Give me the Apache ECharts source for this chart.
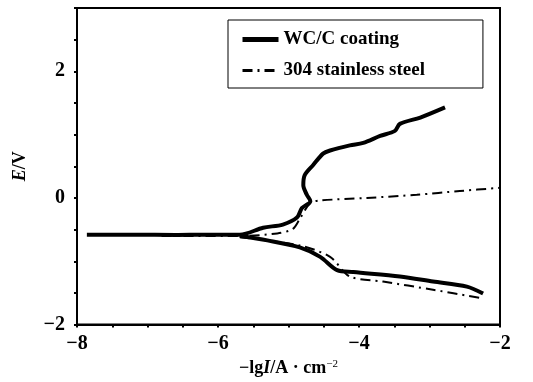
<!DOCTYPE html>
<html>
<head>
<meta charset="utf-8">
<script src="https://cdn.jsdelivr.net/npm/echarts@6/dist/echarts.min.js"></script>
<style>
  html, body { margin: 0; padding: 0; background: #fff; }
  #main { width: 533px; height: 382px; }
</style>
</head>
<body>
<div id="main"></div>
<script>
// legend names
var seriesNames = ['WC/C coating', '304 stainless steel'];

// WC/C coating: [-lgI, E]
var coatingAnodic = [
  [-7.86, -0.58], [-7.2, -0.58], [-6.6, -0.585], [-6.2, -0.58], [-5.69, -0.58],
  [-5.36, -0.47], [-5.08, -0.42], [-4.88, -0.31], [-4.81, -0.16], [-4.69, -0.05],
  [-4.74, 0.05], [-4.79, 0.2], [-4.77, 0.36], [-4.65, 0.52], [-4.51, 0.70],
  [-4.41, 0.75], [-4.13, 0.83], [-3.94, 0.87], [-3.70, 0.98], [-3.49, 1.06],
  [-3.42, 1.17], [-3.13, 1.27], [-2.78, 1.43]
];
var coatingCathodic = [
  [-5.69, -0.6], [-5.30, -0.67], [-4.84, -0.78], [-4.55, -0.93], [-4.31, -1.14],
  [-4.08, -1.17], [-3.42, -1.24], [-2.95, -1.32], [-2.47, -1.40], [-2.24, -1.51]
];

// 304 stainless steel
var steelAnodic = [
  [-6.8, -0.6], [-5.69, -0.6], [-5.16, -0.56], [-4.94, -0.49], [-4.84, -0.33],
  [-4.69, -0.08], [-4.55, -0.04], [-3.89, 0.0], [-3.18, 0.05], [-2.57, 0.11],
  [-2.0, 0.16]
];
var steelCathodic = [
  [-5.69, -0.62], [-4.84, -0.75], [-4.41, -0.93], [-4.13, -1.24], [-3.66, -1.32],
  [-2.95, -1.45], [-2.28, -1.58]
];

var myChart = echarts.init(document.getElementById('main'));
var font = 'Liberation Serif';

option = {
  animation: false,
  textStyle: { fontFamily: font, color: '#000' },
  grid: {
    left: 77, right: 33, top: 8, bottom: 53,
    show: true, borderColor: '#000', borderWidth: 2
  },
  legend: {
    data: [
      { name: seriesNames[0], lineStyle: { width: 5 } },
      { name: seriesNames[1], lineStyle: { width: 3 } }
    ],
    orient: 'vertical',
    left: 228, top: 20,
    padding: [10, 58, 8, 12],
    borderColor: '#000', borderWidth: 1,
    itemWidth: 36, itemHeight: 12, itemGap: 12,
    itemStyle: { opacity: 0 },
    textStyle: { fontFamily: font, fontSize: 19, fontWeight: 'bold', color: '#000' }
  },
  xAxis: {
    type: 'value', min: -8, max: -2, interval: 2,
    name: '{a|−lg}{i|I}{a|/A · cm}{s|−2}',
    nameLocation: 'middle', nameGap: 28,
    nameTextStyle: {
      rich: {
        a: { fontFamily: font, fontSize: 18, fontWeight: 'bold', color: '#000' },
        i: { fontFamily: font, fontSize: 18, fontStyle: 'italic', fontWeight: 'bold', color: '#000' },
        s: { fontFamily: font, fontSize: 11, color: '#000', verticalAlign: 'top', padding: [0, 0, 8, 0] }
      }
    },
    axisLine: { onZero: false, lineStyle: { color: '#000', width: 2 } },
    axisTick: { length: 3, lineStyle: { color: '#000', width: 2 } },
    minorTick: { show: true, splitNumber: 4, length: 3, lineStyle: { color: '#000', width: 2 } },
    splitLine: { show: false },
    axisLabel: {
      fontFamily: font, fontSize: 20, fontWeight: 'bold', color: '#000', margin: 9,
      formatter: function (v) { return v < 0 ? '−' + Math.abs(v) : String(v); }
    }
  },
  yAxis: {
    type: 'value', min: -2, max: 3, interval: 2,
    name: '{i|E}{a|/V}',
    nameLocation: 'middle', nameGap: 48,
    nameTextStyle: {
      rich: {
        a: { fontFamily: font, fontSize: 18, fontWeight: 'bold', color: '#000' },
        i: { fontFamily: font, fontSize: 18, fontStyle: 'italic', fontWeight: 'bold', color: '#000' }
      }
    },
    axisLine: { onZero: false, lineStyle: { color: '#000', width: 2 } },
    axisTick: { length: 3, lineStyle: { color: '#000', width: 2 } },
    minorTick: { show: true, splitNumber: 4, length: 3, lineStyle: { color: '#000', width: 2 } },
    splitLine: { show: false },
    axisLabel: {
      fontFamily: font, fontSize: 20, fontWeight: 'bold', color: '#000', margin: 12,
      showMaxLabel: false,
      formatter: function (v) {
        if (v === 3) return '';
        return v < 0 ? '−' + Math.abs(v) : String(v);
      }
    }
  },
  series: [
    {
      name: seriesNames[1], type: 'line', data: steelAnodic, showSymbol: false,
      symbol: 'none', smooth: 0.3,
      lineStyle: { color: '#000', width: 2, type: [10, 5, 2, 5] }, itemStyle: { color: '#000' }
    },
    {
      name: seriesNames[1], type: 'line', data: steelCathodic, showSymbol: false,
      symbol: 'none', smooth: 0.3,
      lineStyle: { color: '#000', width: 2, type: [10, 5, 2, 5] }, itemStyle: { color: '#000' }
    },
    {
      name: seriesNames[0], type: 'line', data: coatingAnodic, showSymbol: false,
      symbol: 'none', smooth: 0.3,
      lineStyle: { color: '#000', width: 4 }, itemStyle: { color: '#000' }
    },
    {
      name: seriesNames[0], type: 'line', data: coatingCathodic, showSymbol: false,
      symbol: 'none', smooth: 0.3,
      lineStyle: { color: '#000', width: 4 }, itemStyle: { color: '#000' }
    }
  ]
};

myChart.setOption(option);
</script>
</body>
</html>
